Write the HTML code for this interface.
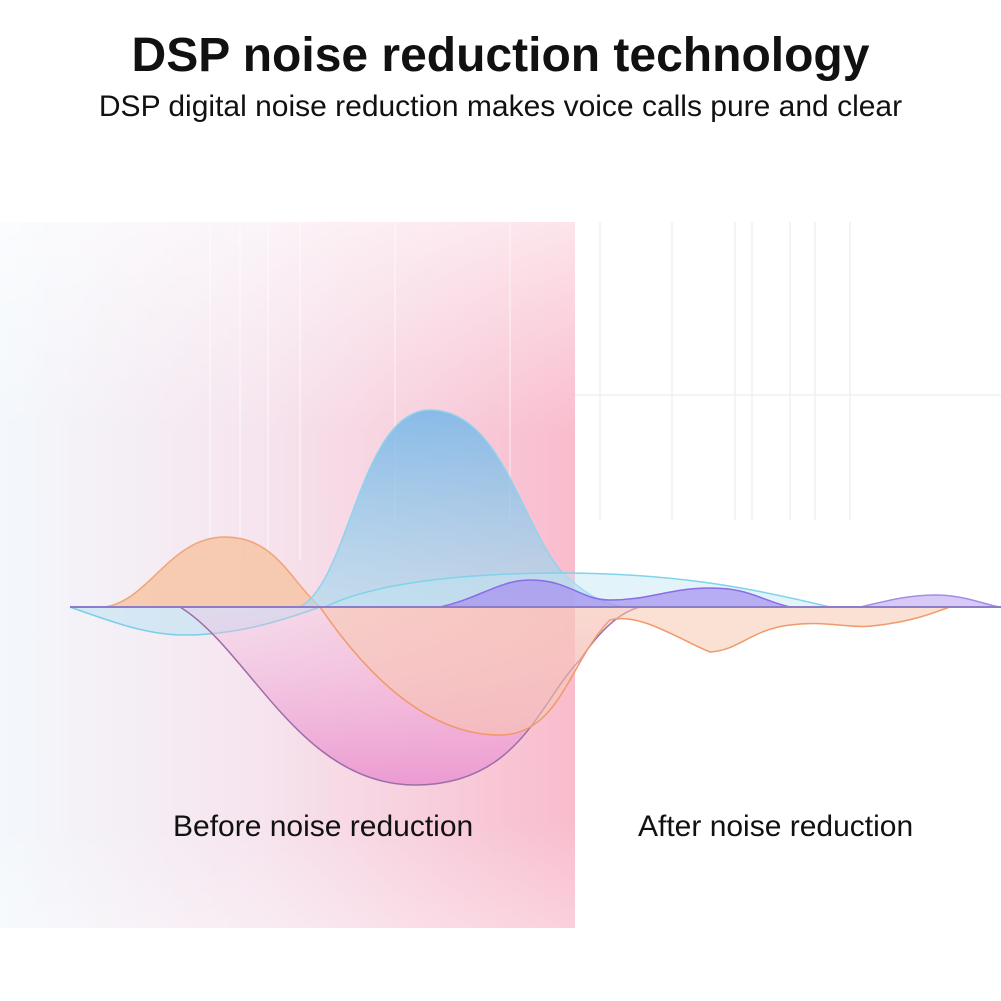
<!DOCTYPE html>
<html><head><style>
html,body{margin:0;padding:0;background:#fff;}
body{width:1001px;height:1001px;position:relative;overflow:hidden;font-family:"Liberation Sans",sans-serif;}
.t{position:absolute;left:0;width:1001px;text-align:center;color:#111;}
</style></head><body>
<svg width="1001" height="1001" style="position:absolute;left:0;top:0">
<defs>
<linearGradient id="bg" x1="0" x2="1" y1="0" y2="0">
<stop offset="0" stop-color="#f3f8fc"/><stop offset="0.45" stop-color="#f6e4ee"/><stop offset="1" stop-color="#f9bccd"/>
</linearGradient>
<linearGradient id="fade" x1="0" x2="0" y1="0" y2="1">
<stop offset="0" stop-color="#fff" stop-opacity="0.6"/><stop offset="0.3" stop-color="#fff" stop-opacity="0"/><stop offset="0.85" stop-color="#fff" stop-opacity="0"/><stop offset="1" stop-color="#fff" stop-opacity="0.3"/>
</linearGradient>
<linearGradient id="blue" x1="0" x2="0" y1="0" y2="1">
<stop offset="0" stop-color="#7db8e8"/><stop offset="1" stop-color="#a9dcef" stop-opacity="0.7"/>
</linearGradient>
<linearGradient id="pink" x1="0" x2="0" y1="0" y2="1">
<stop offset="0" stop-color="#f3c2e0" stop-opacity="0.3"/><stop offset="1" stop-color="#ec9bd2"/>
</linearGradient>
</defs>
<rect x="0" y="222" width="575" height="706" fill="url(#bg)"/>
<rect x="0" y="222" width="575" height="706" fill="url(#fade)"/>
<g stroke="#fff" stroke-opacity="0.35" stroke-width="2">
<line x1="210" y1="222" x2="210" y2="560"/><line x1="240" y1="222" x2="240" y2="560"/><line x1="268" y1="222" x2="268" y2="560"/><line x1="300" y1="222" x2="300" y2="560"/><line x1="395" y1="222" x2="395" y2="520"/><line x1="510" y1="222" x2="510" y2="520"/>
</g>
<g stroke="#f0f0f0" stroke-width="1.5">
<line x1="600" y1="222" x2="600" y2="520"/><line x1="672" y1="222" x2="672" y2="520"/><line x1="735" y1="222" x2="735" y2="520"/><line x1="752" y1="222" x2="752" y2="520"/><line x1="790" y1="222" x2="790" y2="520"/><line x1="815" y1="222" x2="815" y2="520"/><line x1="850" y1="222" x2="850" y2="520"/>
<line x1="575" y1="395" x2="1001" y2="395"/>
</g>
<path d="M70,607 C120,625 150,635 185,635 C230,635 270,625 320,607 Z" fill="#bfe3f3" fill-opacity="0.6" stroke="#7ccfe6" stroke-width="1.5"/>
<path d="M180,607 C250,650 300,785 415,785 C520,785 540,700 580,660 C600,630 620,612 640,607 Z" fill="url(#pink)" stroke="#9a6ea8" stroke-width="1.5"/>
<path d="M105,607 C150,600 170,537 225,537 C275,537 290,580 320,607 Z" fill="#f6c5a6" fill-opacity="0.85" stroke="#f3a476" stroke-width="1.5"/>
<path d="M320,607 C370,680 430,735 500,735 C560,735 570,660 610,620 C640,612 680,640 710,652 C740,650 750,630 790,625 C830,620 850,630 880,625 C920,620 940,610 950,607 Z" fill="#f8c9b0" fill-opacity="0.55" stroke="#f0996a" stroke-width="1.5"/>
<path d="M300,607 C350,580 360,410 430,410 C500,410 520,520 560,570 C590,600 610,605 625,607 Z" fill="url(#blue)" fill-opacity="0.9" stroke="#8fd3ee" stroke-width="1.5"/>
<path d="M325,607 C380,580 480,573 560,573 C680,573 760,590 830,607 Z" fill="#bfe6f5" fill-opacity="0.45" stroke="#7fd3ea" stroke-width="1.5"/>
<path d="M440,607 C480,598 500,580 530,580 C570,580 580,600 610,600 C650,600 670,588 710,588 C750,588 760,600 790,607 Z" fill="#a58ef0" fill-opacity="0.7" stroke="#8a6ce8" stroke-width="1.5"/>
<path d="M860,607 C890,600 910,595 935,595 C965,595 985,605 1000,607 Z" fill="#c6b3f2" fill-opacity="0.7" stroke="#a58ce8" stroke-width="1.5"/>
<line x1="70" y1="607" x2="1001" y2="607" stroke="#8d7cc8" stroke-width="2"/>
</svg>
<div class="t" style="top:28px;font-size:48px;font-weight:bold;">DSP noise reduction technology</div>
<div class="t" style="top:90px;font-size:30px;">DSP digital noise reduction makes voice calls pure and clear</div>
<div style="position:absolute;left:173px;top:810px;font-size:30px;color:#111;">Before noise reduction</div>
<div style="position:absolute;left:638px;top:810px;font-size:30px;color:#111;">After noise reduction</div>
</body></html>
